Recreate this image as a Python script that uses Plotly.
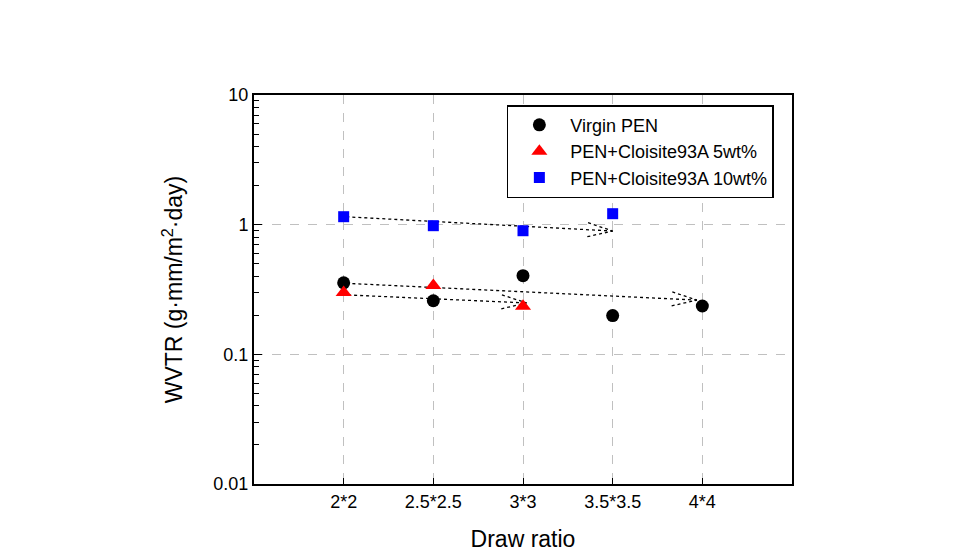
import math
import plotly.graph_objects as go

categories = ["2*2", "2.5*2.5", "3*3", "3.5*3.5", "4*4"]
cat_pos = [1, 2, 3, 4, 5]

virgin_pos = [1, 2, 3, 4, 5]
virgin_vals = [0.356, 0.259, 0.404, 0.199, 0.236]

c5_pos = [1, 2, 3]
c5_vals = [0.30, 0.34, 0.235]

c10_pos = [1, 2, 3, 4]
c10_vals = [1.152, 0.982, 0.898, 1.215]

# dotted trend arrows: start (position, value) -> end (position, value)
arrow_x0 = [1.03, 1.03, 1.05]
arrow_y0 = [1.15, 0.353, 0.287]
arrow_x1 = [4.0, 4.94, 3.04]
arrow_y1 = [0.893, 0.262, 0.249]

W, H = 960, 560
L, R, T, B = 246, 176, 87, 84
XR = [0, 6]
YR = [-2, 1]
pw = W - L - R
ph = H - T - B


def to_px(x, y):
    px = (x - XR[0]) / (XR[1] - XR[0]) * pw
    py = (math.log10(y) - YR[0]) / (YR[1] - YR[0]) * ph
    return px, py


def from_px(px, py):
    x = XR[0] + px / pw * (XR[1] - XR[0])
    y = 10 ** (YR[0] + py / ph * (YR[1] - YR[0]))
    return x, y


fig = go.Figure()

# arrows
for x0, y0, x1, y1 in zip(arrow_x0, arrow_y0, arrow_x1, arrow_y1):
    fig.add_trace(go.Scatter(x=[x0, x1], y=[y0, y1], mode="lines",
                             line=dict(color="black", width=1.3, dash="dot"),
                             showlegend=False, hoverinfo="skip"))
    p0 = to_px(x0, y0)
    p1 = to_px(x1, y1)
    dx, dy = p1[0] - p0[0], p1[1] - p0[1]
    n = math.hypot(dx, dy)
    ux, uy = dx / n, dy / n
    hl, hw = 25, 7
    bx, by = p1[0] - ux * hl, p1[1] - uy * hl
    for s in (1, -1):
        qx, qy = bx - uy * hw * s, by + ux * hw * s
        a = from_px(qx, qy)
        fig.add_trace(go.Scatter(x=[a[0], x1], y=[a[1], y1], mode="lines",
                                 line=dict(color="black", width=1.3, dash="dot"),
                                 showlegend=False, hoverinfo="skip"))

fig.add_trace(go.Scatter(x=virgin_pos, y=virgin_vals, mode="markers", name="Virgin PEN",
                         marker=dict(symbol="circle", size=13, color="black")))
fig.add_trace(go.Scatter(x=c5_pos, y=c5_vals, mode="markers", name="PEN+Cloisite93A 5wt%",
                         marker=dict(symbol="triangle-up", size=14, color="red")))
fig.add_trace(go.Scatter(x=c10_pos, y=c10_vals, mode="markers", name="PEN+Cloisite93A 10wt%",
                         marker=dict(symbol="square", size=11, color="blue")))

font_family = "Arial, Liberation Sans, sans-serif"

fig.update_layout(
    width=W, height=H,
    margin=dict(l=L, r=R, t=T, b=B),
    paper_bgcolor="white", plot_bgcolor="white",
    font=dict(family=font_family, color="black", size=18),
    showlegend=True,
    legend=dict(x=0.470, y=0.974, xanchor="left", yanchor="top",
                bordercolor="black", borderwidth=1.5, bgcolor="white",
                font=dict(size=18), tracegroupgap=0, itemwidth=52),
    xaxis=dict(range=XR, tickvals=cat_pos, ticktext=categories,
               showline=True, mirror=True, linecolor="black", linewidth=2,
               ticks="inside", ticklen=6, tickcolor="black",
               showgrid=True, gridcolor="#c0c0c0", griddash="dash", gridwidth=1,
               zeroline=False, tickfont=dict(size=18),
               title=dict(text="Draw ratio", font=dict(size=23), standoff=20)),
    yaxis=dict(type="log", range=YR, tickvals=[0.01, 0.1, 1, 10],
               ticktext=["0.01", "0.1", "1", "10"],
               showline=True, mirror=True, linecolor="black", linewidth=2,
               ticks="inside", ticklen=8, tickcolor="black",
               minor=dict(ticks="inside", ticklen=5, tickcolor="black", dtick="D1", showgrid=False),
               showgrid=True, gridcolor="#c0c0c0", griddash="dash", gridwidth=1,
               zeroline=False, tickfont=dict(size=18),
               title=dict(text="WVTR (g·mm/m<sup>2</sup>·day)", font=dict(size=23), standoff=24)),
)

fig.write_html("out.html")
